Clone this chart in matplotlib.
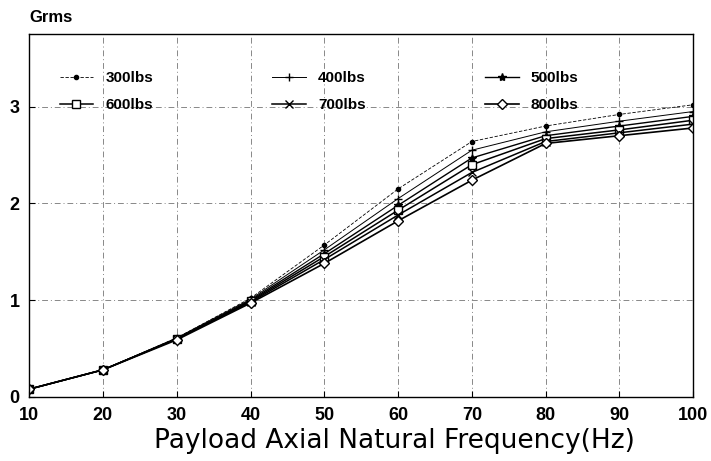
import numpy as np
import matplotlib
matplotlib.use("Agg")
from matplotlib import pyplot as plt

freq = [10, 20, 30, 40, 50, 60, 70, 80, 90, 100]
labels = ["300lbs", "400lbs", "500lbs", "600lbs", "700lbs", "800lbs"]
g300 = [0.08, 0.28, 0.61, 1.02, 1.57, 2.15, 2.64, 2.80, 2.92, 3.02]
g400 = [0.08, 0.28, 0.61, 1.01, 1.52, 2.05, 2.55, 2.74, 2.85, 2.95]
g500 = [0.08, 0.28, 0.60, 1.00, 1.48, 1.98, 2.47, 2.70, 2.80, 2.90]
g600 = [0.08, 0.28, 0.60, 0.99, 1.45, 1.93, 2.40, 2.67, 2.76, 2.86]
g700 = [0.08, 0.28, 0.60, 0.98, 1.42, 1.88, 2.32, 2.64, 2.73, 2.82]
g800 = [0.08, 0.28, 0.59, 0.97, 1.38, 1.82, 2.24, 2.62, 2.70, 2.78]

series = [g300, g400, g500, g600, g700, g800]
markers = [".", "+", "*", "s", "x", "D"]
widths = [0.6, 0.7, 1.0, 1.1, 1.1, 1.2]
styles = [(0, (4, 2)), "-", "-", "-", "-", "-"]

plt.rcParams['font.family'] = ['Liberation Sans', 'DejaVu Sans']

fig = plt.figure(figsize=(7.11, 4.61), dpi=100)
ax = fig.add_axes([0.041, 0.139, 0.934, 0.787])

handles = []
for ys, lab, m, w, ls in zip(series, labels, markers, widths, styles):
    mfc = "white" if m in ("s", "D") else "black"
    h, = ax.plot(freq, ys, color="black", lw=w, ls=ls, marker=m, ms=6 if m != "D" else 5,
                 mfc=mfc, mec="black", mew=1.0, label=lab)
    handles.append(h)

ax.set_xlim(10, 100)
ax.set_ylim(0, 3.75)
ax.set_xticks(freq)
ax.set_yticks([0, 1, 2, 3])
ax.grid(True, color="#888888", ls=(0, (6, 3, 1, 3)), lw=0.7)
ax.tick_params(direction="in", length=4, labelsize=13, pad=7)
for t in ax.get_xticklabels() + ax.get_yticklabels():
    t.set_fontweight("bold")
for s in ax.spines.values():
    s.set_linewidth(1.0)

ax.set_xlabel("Payload Axial Natural Frequency(Hz)", fontsize=19,
              family=["DejaVu Sans"])
ax.xaxis.set_label_coords(0.55, -0.087)
fig.text(0.042, 0.963, "Grms", fontsize=12, fontweight="bold", ha="left", va="center")

order = [0, 3, 1, 4, 2, 5]
leg = ax.legend([handles[i] for i in order], [labels[i] for i in order], ncol=3,
                loc="upper left", bbox_to_anchor=(0.025, 0.935), frameon=False,
                handlelength=2.2, columnspacing=7.8, labelspacing=0.85,
                prop={"weight": "bold", "size": 11})

fig.savefig("out.png", dpi=100)
